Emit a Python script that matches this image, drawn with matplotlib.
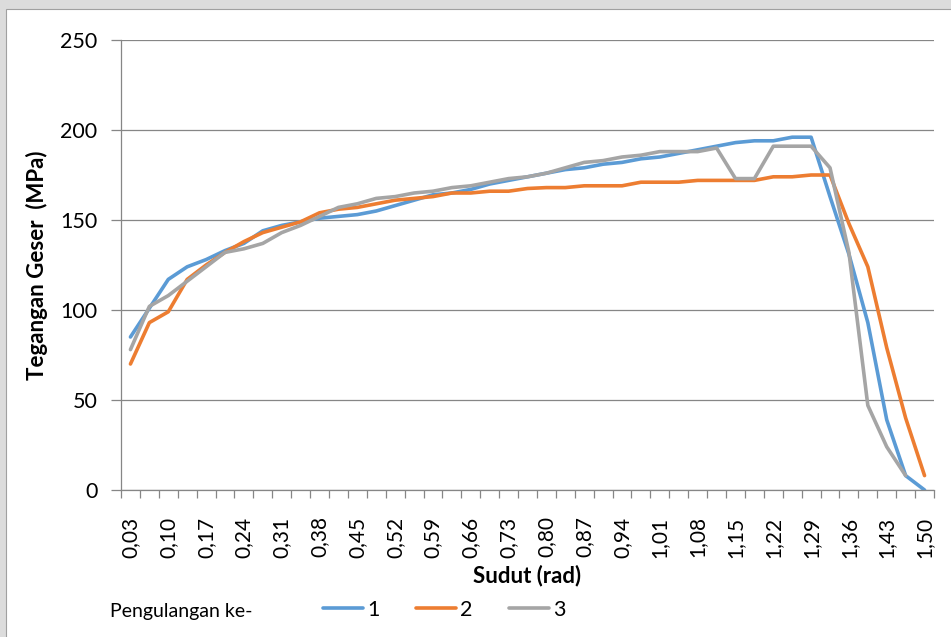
import numpy as np
import matplotlib.pyplot as plt
from matplotlib.patches import Rectangle


# Shear stress vs angle, three repetitions (Excel-style line chart)

x_labels = ["0,03", "0,10", "0,17", "0,24", "0,31", "0,38", "0,45", "0,52",
            "0,59", "0,66", "0,73", "0,80", "0,87", "0,94", "1,01", "1,08",
            "1,15", "1,22", "1,29", "1,36", "1,43", "1,50"]
n_points = 43

rep_1 = [85, 101, 117, 124, 128, 133, 137, 144, 147, 149, 151, 152, 153, 155,
         158, 161, 164, 165, 167, 170, 172, 174, 176, 178, 179, 181, 182, 184,
         185, 187, 189, 191, 193, 194, 194, 196, 196, 163, 131, 93, 39, 8, 0]
rep_2 = [70, 93, 99, 117, 125, 132, 138, 143, 146, 149, 154, 156, 157, 159,
         161, 162, 163, 165, 165, 166, 166, 167.5, 168, 168, 169, 169, 169, 171,
         171, 171, 172, 172, 172, 172, 174, 174, 175, 175, 148, 124, 79, 40, 8]
rep_3 = [78, 102, 108, 116, 124, 132, 134, 137, 143, 147, 152, 157, 159, 162,
         163, 165, 166, 168, 169, 171, 173, 174, 176, 179, 182, 183, 185, 186,
         188, 188, 188, 190, 173, 173, 191, 191, 191, 179, 132, 47, 24, 8, np.nan]

series_names = ["1", "2", "3"]
colors = ["#5B9BD5", "#ED7D31", "#A5A5A5"]

plt.rcParams["font.family"] = ["Lato", "DejaVu Sans"]
grid_color = "#868686"

fig = plt.figure(figsize=(9.51, 6.37), dpi=100)
fig.patch.set_facecolor("#dcdcdc")
# white chart area with thin border, kept behind the axes
fig.patches.append(Rectangle((6 / 951, -0.01), 1.0, 1 - 9 / 637 + 0.01,
                             transform=fig.transFigure, facecolor="white",
                             edgecolor="#a0a0a0", linewidth=0.8, zorder=-10))

ax = fig.add_axes([121 / 951, 1 - 490 / 637, (934 - 121) / 951, 450 / 637])
ax.set_facecolor("none")

xs = np.arange(n_points)
handles = []
for vals, name, col in zip([rep_1, rep_2, rep_3], series_names, colors):
    h, = ax.plot(xs, vals, color=col, linewidth=2.6, label=name,
                 solid_capstyle="round", solid_joinstyle="round")
    handles.append(h)

ax.set_xlim(-0.5, n_points - 0.5)
ax.set_ylim(0, 250)
ax.set_yticks(np.arange(0, 251, 50))
ax.yaxis.grid(True, color=grid_color, linewidth=0.9)
ax.set_axisbelow(True)

# category boundaries get tick marks, labels sit on every other category
ax.set_xticks(np.arange(-0.5, n_points, 1.0))
ax.set_xticklabels([])
ax.set_xticks(np.arange(0, n_points, 2), minor=True)
ax.set_xticklabels(x_labels, minor=True, rotation=90, fontsize=15)
ax.tick_params(axis="x", which="major", length=6, color=grid_color, width=0.9)
ax.tick_params(axis="x", which="minor", length=0, pad=19)
ax.tick_params(axis="y", length=7, color=grid_color, width=0.9, labelsize=15.5, pad=10)

for side in ["top", "right"]:
    ax.spines[side].set_visible(False)
for side in ["left", "bottom"]:
    ax.spines[side].set_color(grid_color)
    ax.spines[side].set_linewidth(0.9)

ax.set_xlabel("Sudut (rad)", fontsize=16, fontweight="bold", labelpad=5)
ax.set_ylabel("Tegangan Geser  (MPa)", fontsize=16, fontweight="bold", labelpad=9)

fig.text(110 / 951, 1 - 612 / 637, "Pengulangan ke-", fontsize=14, va="center")
fig.legend(handles=handles, labels=series_names, loc="center left",
           bbox_to_anchor=(323 / 951, 1 - 610 / 637), ncol=3, frameon=False,
           fontsize=15.5, handlelength=1.85, handletextpad=0.2,
           columnspacing=1.7, borderpad=0, borderaxespad=0)

fig.savefig("out.png", dpi=100, facecolor=fig.get_facecolor())
